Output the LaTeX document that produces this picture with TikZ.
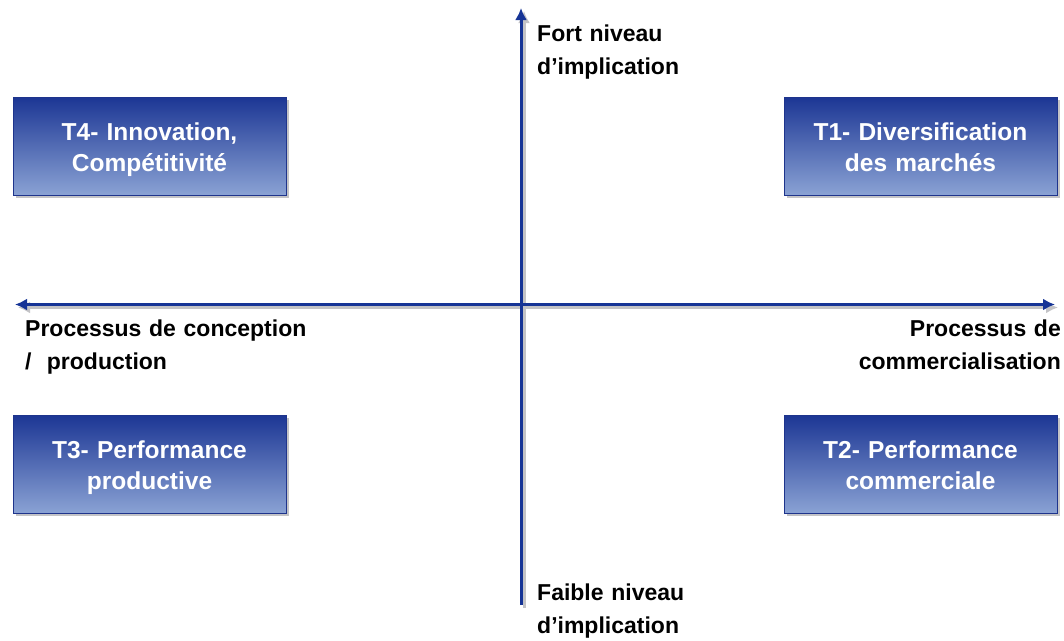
\documentclass[tikz,border=0pt]{standalone}
\usepackage{fontspec}
\setmainfont{Liberation Sans}
\usetikzlibrary{arrows.meta,shadows}
\definecolor{axisblue}{RGB}{22,52,150}
\definecolor{axisshadow}{RGB}{195,195,198}
\definecolor{boxtop}{RGB}{28,54,148}
\definecolor{boxbot}{RGB}{138,162,212}
\definecolor{boxborder}{RGB}{30,52,140}
\newcommand{\toprule}{\rule{0pt}{25pt}}
\newcommand{\botrule}{\rule[-6pt]{0pt}{6pt}}
\begin{document}
\begin{tikzpicture}[x=1pt,y=-1pt,
  axis/.style={line width=3pt, draw=axisblue},
  axshadow/.style={line width=3pt, draw=axisshadow},
  axtip/.tip={Latex[length=12pt,width=12pt]},
  qbox/.style={rectangle, minimum width=273pt, minimum height=98pt, inner sep=0pt,
    draw=boxborder, line width=1pt, top color=boxtop, bottom color=boxbot,
    text=white, font=\bfseries\fontsize{24.5}{31}\selectfont, text width=265pt, align=center,
    drop shadow={shadow xshift=3pt, shadow yshift=-3pt, fill=axisshadow, opacity=1}},
  lbl/.style={inner sep=0pt, text width=320pt, font=\bfseries\fontsize{23}{33.5}\selectfont}
]
\useasboundingbox (0,0) rectangle (1064,640);
% axis end points
\coordinate (vtop) at (521,8);
\coordinate (vbot) at (521,605);
\coordinate (hleft) at (15,304.5);
\coordinate (hright) at (1055,304.5);
% shadows of the axes
\draw[axshadow, -{axtip}] ([shift={(3,3)}]vbot) -- ([shift={(3,3)}]vtop);
\draw[axshadow, {axtip}-{axtip}] ([shift={(3,3)}]hleft) -- ([shift={(3,3)}]hright);
% axes
\draw[axis, -{axtip}] (vbot) -- (vtop);
\draw[axis, {axtip}-{axtip}] (hleft) -- (hright);
% boxes
\node[qbox] (t4) at (149.5,146) {\toprule T4- Innovation,\\Compétitivité\botrule};
\node[qbox] (t1) at (920.5,146) {\toprule T1- Diversification\\des marchés\botrule};
\node[qbox] (t3) at (149.5,464) {\toprule T3- Performance\\productive\botrule};
\node[qbox] (t2) at (920.5,464) {\toprule T2- Performance\\commerciale\botrule};
% axis labels
\node[lbl, anchor=base west, align=left] (fort) at (537,41) {Fort niveau\\d’implication};
\node[lbl, anchor=base west, align=left] (faible) at (537,600) {Faible niveau\\d’implication};
\node[lbl, anchor=base west, align=left] (conc) at (25,336) {Processus de conception\\/~ production};
\node[lbl, anchor=base east, align=right] (comm) at (1061,336) {Processus de\\commercialisation};
\end{tikzpicture}
\end{document}
